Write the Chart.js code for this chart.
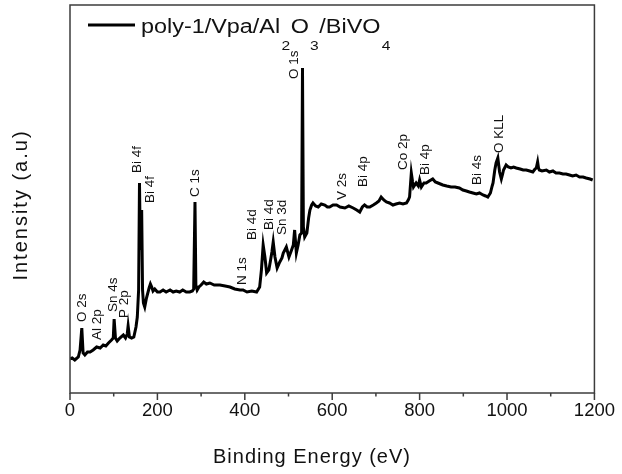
<!DOCTYPE html>
<html>
<head>
<meta charset="utf-8">
<title>XPS survey</title>
<script src="https://cdn.jsdelivr.net/npm/chart.js@4/dist/chart.umd.min.js"></script>
<style>
  html, body { margin: 0; padding: 0; background: #fff; }
  #chart { display: block; }
</style>
</head>
<body>
<canvas id="chart" width="622" height="474"></canvas>
<script>
/* XPS survey spectrum, poly-1/Vpa/Al2O3/BiVO4 */

// --- data (arbitrary units) ---
const energy = [
  0, 5, 11, 19, 23, 27, 30, 34, 40, 46, 53, 61, 69, 76, 82, 88, 95, 99, 101, 104,
  108, 114, 122, 127, 131, 133, 136, 141, 146, 151, 154, 157, 159, 161, 164, 166, 168, 171, 175, 181,
  184, 187, 190, 194, 200, 206, 213, 220, 229, 236, 243, 251, 258, 266, 274, 280, 283, 286, 288, 291,
  295, 300, 306, 312, 320, 330, 343, 355, 366, 377, 389, 396, 405, 416, 427, 434, 438, 442, 446, 450,
  455, 459, 462, 465, 469, 474, 480, 485, 488, 495, 501, 507, 511, 514, 518, 522, 526, 530, 532, 534,
  537, 542, 546, 549, 553, 556, 562, 568, 575, 583, 589, 594, 602, 610, 618, 629, 638, 648, 656, 663,
  669, 674, 680, 686, 694, 701, 707, 712, 718, 724, 731, 739, 746, 754, 762, 770, 774, 777, 781, 784,
  786, 792, 797, 800, 804, 810, 815, 822, 830, 836, 842, 853, 862, 872, 881, 891, 899, 907, 914, 922,
  930, 937, 945, 951, 956, 962, 966, 968, 972, 975, 979, 983, 987, 990, 992, 998, 1003, 1009, 1015, 1021,
  1030, 1037, 1044, 1052, 1059, 1064, 1067, 1070, 1072, 1074, 1080, 1090, 1097, 1105, 1112, 1120, 1128, 1135, 1143, 1150,
  1158, 1166, 1174, 1181, 1190, 1196
];
const intensity = [
  34, 35, 33, 36, 43, 65, 40, 38, 41, 41, 43, 46, 45, 48, 47, 50, 53, 55, 74, 55,
  52, 55, 58, 55, 59, 67, 56, 55, 56, 66, 76, 103, 210, 143, 183, 103, 90, 86, 95, 105,
  109, 106, 102, 104, 101, 101, 103, 101, 103, 101, 102, 101, 103, 101, 101, 102, 104, 191, 108, 103,
  106, 108, 111, 109, 110, 108, 108, 107, 106, 104, 103, 103, 101, 102, 101, 106, 123, 148, 136, 120,
  123, 133, 141, 151, 136, 125, 131, 135, 140, 146, 136, 143, 148, 163, 140, 148, 158, 160, 325, 166,
  156, 160, 175, 183, 188, 190, 187, 186, 189, 188, 186, 186, 188, 188, 186, 185, 187, 185, 183, 181,
  186, 188, 186, 186, 188, 190, 192, 196, 193, 191, 190, 188, 189, 190, 189, 190, 193, 196, 220, 211,
  206, 210, 207, 213, 206, 210, 210, 212, 214, 211, 210, 208, 207, 206, 206, 205, 203, 202, 201, 200,
  199, 200, 198, 197, 196, 200, 207, 210, 223, 230, 235, 221, 214, 219, 223, 228, 226, 225, 226, 225,
  224, 223, 223, 222, 221, 224, 225, 231, 225, 223, 222, 223, 221, 222, 220, 220, 219, 219, 218, 217,
  218, 216, 216, 215, 214, 213
];

// --- peak assignments: name, binding energy, level of the label foot ---
const peakNames  = ['O 2s', 'Al 2p', 'Sn 4s', 'P 2p', 'Bi 4f', 'Bi 4f', 'C 1s', 'N 1s', 'Bi 4d', 'Bi 4d',
                    'Sn 3d', 'O 1s', 'V 2s', 'Bi 4p', 'Co 2p', 'Bi 4p', 'Bi 4s', 'O KLL'];
const peakEnergy = [29, 62, 98, 125, 153, 184, 286, 395, 416, 457, 486, 514, 622, 672, 763, 814, 933, 982];
const peakLevel  = [71, 53, 81, 75, 220, 190, 196, 108, 153, 163, 158, 314, 193, 206, 223, 218, 208, 240];

const xMajor = [0, 200, 400, 600, 800, 1000, 1200];
const xMinor = [100, 300, 500, 700, 900, 1100];

// legend text in pieces: [text, isSubscript]
const seriesName = [['poly-1/Vpa/Al', 0], ['2', 1], ['O', 0], ['3', 1], ['/BiVO', 0], ['4', 1]];

(function () {
  'use strict';

  const FONT = '"Liberation Sans", Arial, sans-serif';
  const INK = '#111';
  const FRAME = '#3c3c3c';

  // frame + outward tick marks on the bottom axis
  const framePlugin = {
    id: 'frame',
    afterDraw(chart) {
      const { ctx, chartArea: a } = chart;
      const xs = chart.scales.x;
      ctx.save();
      ctx.strokeStyle = FRAME;
      ctx.lineWidth = 1.5;
      ctx.strokeRect(a.left, a.top, a.right - a.left, a.bottom - a.top);
      ctx.beginPath();
      xMajor.forEach(v => { const x = xs.getPixelForValue(v); ctx.moveTo(x, a.bottom); ctx.lineTo(x, a.bottom + 7); });
      xMinor.forEach(v => { const x = xs.getPixelForValue(v); ctx.moveTo(x, a.bottom); ctx.lineTo(x, a.bottom + 3.5); });
      ctx.stroke();
      ctx.restore();
    },
  };

  // rotated peak labels
  const peakPlugin = {
    id: 'peaks',
    afterDatasetsDraw(chart) {
      const { ctx } = chart;
      const xs = chart.scales.x, ys = chart.scales.y;
      ctx.save();
      ctx.fillStyle = INK;
      ctx.font = '13.5px ' + FONT;
      ctx.textAlign = 'left';
      ctx.textBaseline = 'middle';
      peakNames.forEach((name, i) => {
        ctx.save();
        ctx.translate(xs.getPixelForValue(peakEnergy[i]), ys.getPixelForValue(peakLevel[i]));
        ctx.rotate(-Math.PI / 2);
        ctx.fillText(name, 0, 0);
        ctx.restore();
      });
      ctx.restore();
    },
  };

  // axis titles and the legend (needs subscripts, so drawn by hand)
  const textPlugin = {
    id: 'texts',
    afterDraw(chart) {
      const { ctx, chartArea: a } = chart;
      ctx.save();
      ctx.fillStyle = INK;

      ctx.font = '20px ' + FONT;
      ctx.letterSpacing = '1px';
      ctx.textAlign = 'center';
      ctx.textBaseline = 'middle';
      ctx.fillText('Binding Energy (eV)', 312, 457);

      ctx.save();
      ctx.letterSpacing = '2px';
      ctx.translate(21, 205);
      ctx.rotate(-Math.PI / 2);
      ctx.fillText('Intensity (a.u)', 0, 0);
      ctx.restore();

      // legend
      ctx.strokeStyle = '#000';
      ctx.lineWidth = 3;
      ctx.beginPath();
      ctx.moveTo(a.left + 18, 25);
      ctx.lineTo(a.left + 65, 25);
      ctx.stroke();
      ctx.textAlign = 'left';
      ctx.textBaseline = 'alphabetic';
      ctx.letterSpacing = '0px';
      ctx.translate(a.left + 71, 0);
      ctx.scale(1.2, 1);
      let x = 0;
      seriesName.forEach(([txt, sub]) => {
        ctx.font = (sub ? '13px ' : '19.5px ') + FONT;
        ctx.fillText(txt, x, sub ? 50 : 33);
        x += ctx.measureText(txt).width + (sub ? 0.5 : 1);
      });
      ctx.restore();
    },
  };

  new Chart(document.getElementById('chart'), {
    type: 'line',
    data: {
      datasets: [{
        label: 'poly-1/Vpa/Al2O3/BiVO4',
        data: energy.map((e, i) => ({ x: e, y: intensity[i] })),
        borderColor: '#000',
        borderWidth: 3,
        pointRadius: 0,
        tension: 0,
        fill: false,
      }],
    },
    options: {
      responsive: false,
      devicePixelRatio: 1,
      animation: false,
      layout: { padding: { left: 70, right: 27, top: 5, bottom: 0 } },
      plugins: { legend: { display: false }, tooltip: { enabled: false } },
      scales: {
        x: {
          type: 'linear', min: 0, max: 1200,
          grid: { display: false, drawTicks: false },
          border: { display: false },
          ticks: {
            stepSize: 200, padding: 7, color: INK, maxRotation: 0,
            font: { family: FONT, size: 18.5 },
            callback: v => String(v),
          },
          afterFit(scale) { scale.height = 81; },
        },
        y: { display: false, min: 0, max: 388 },
      },
    },
    plugins: [framePlugin, peakPlugin, textPlugin],
  });
})();
</script>
</body>
</html>
